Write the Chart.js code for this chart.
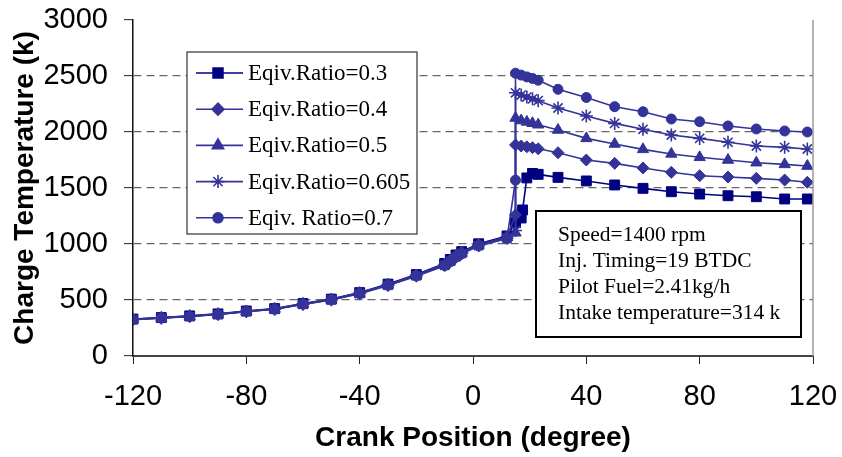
<!DOCTYPE html>
<html>
<head>
<meta charset="utf-8">
<title>Charge Temperature vs Crank Position</title>
<script src="https://cdn.jsdelivr.net/npm/chart.js@4.4.0/dist/chart.umd.min.js"></script>
<style>
  html, body { margin: 0; padding: 0; background: #fff; }
  #chart { display: block; }
</style>
</head>
<body>
<canvas id="chart" width="842" height="457"></canvas>
<script>
// crank angles (degree) - equivalence ratios 0.4 .. 0.7 share the same grid
const crankJump = [-120, -110, -100, -90, -80, -70, -60, -50, -40, -30, -20, -10, -8, -6, -4, 2, 12, 15, 15, 17, 19, 21, 23, 30, 40, 50, 60, 70, 80, 90, 100, 110, 118];
// ratio 0.3 has no sudden jump, ignition comes a bit later
const crankLean = [-120, -110, -100, -90, -80, -70, -60, -50, -40, -30, -20, -10, -8, -6, -4, 2, 12, 15, 17, 17.5, 19, 21, 23, 30, 40, 50, 60, 70, 80, 90, 100, 110, 118];

const temp03  = [330, 343, 358, 376, 402, 423, 468, 508, 566, 642, 727, 826, 862, 902, 932, 1002, 1072, 1190, 1232, 1304, 1590, 1630, 1622, 1595, 1563, 1527, 1497, 1467, 1446, 1431, 1422, 1402, 1402];
const temp04  = [328, 341, 356, 374, 400, 421, 466, 506, 564, 638, 723, 820, 856, 896, 926, 995, 1065, 1260, 1885, 1875, 1868, 1860, 1850, 1815, 1750, 1720, 1679, 1640, 1610, 1598, 1586, 1571, 1551];
const temp05  = [327, 340, 355, 373, 398, 420, 464, 504, 561, 635, 719, 815, 850, 890, 920, 990, 1058, 1100, 2125, 2102, 2090, 2078, 2065, 2018, 1943, 1893, 1845, 1804, 1774, 1750, 1726, 1711, 1696];
const temp0605 = [326, 339, 354, 372, 397, 418, 462, 502, 558, 632, 716, 810, 846, 886, 916, 986, 1052, 1120, 2350, 2330, 2312, 2296, 2280, 2214, 2143, 2077, 2024, 1973, 1943, 1908, 1875, 1863, 1848];
const temp07  = [325, 338, 353, 371, 396, 417, 461, 500, 556, 630, 713, 806, 842, 882, 912, 982, 1048, 1570, 2525, 2508, 2492, 2478, 2462, 2381, 2308, 2226, 2181, 2116, 2092, 2054, 2027, 2009, 2000];

const seriesLabels = ['Eqiv.Ratio=0.3', 'Eqiv.Ratio=0.4', 'Eqiv.Ratio=0.5', 'Eqiv.Ratio=0.605', 'Eqiv. Ratio=0.7'];
const xTicks = [-120, -80, -40, 0, 40, 80, 120];
const yTicks = [0, 500, 1000, 1500, 2000, 2500, 3000];
const noteLines = ['Speed=1400 rpm', 'Inj. Timing=19 BTDC', 'Pilot Fuel=2.41kg/h', 'Intake temperature=314 k'];

const NAVY = '#000080';
const BLUE = '#333399';
const SANS = '"Liberation Sans", Arial, sans-serif';
const SERIF = '"Liberation Serif", "Times New Roman", serif';

function toPoints(xs, ys) {
    return xs.map((x, i) => ({ x: x, y: ys[i] }));
}

// later series drawn on top, like the spreadsheet did
function makeSet(label, xs, ys, color, style, radius, order) {
    return {
        label: label,
        data: toPoints(xs, ys),
        borderColor: color,
        backgroundColor: color,
        borderWidth: 1.6,
        pointStyle: style,
        pointRadius: radius,
        pointBorderWidth: style === 'star' ? 1.6 : 1,
        pointBorderColor: color,
        pointBackgroundColor: color,
        tension: 0,
        fill: false,
        order: order
    };
}

const datasets = [
    makeSet(seriesLabels[0], crankLean, temp03, NAVY, 'rect', 7, 5),
    makeSet(seriesLabels[1], crankJump, temp04, BLUE, 'rectRot', 6, 4),
    makeSet(seriesLabels[2], crankJump, temp05, BLUE, 'triangle', 6.5, 3),
    makeSet(seriesLabels[3], crankJump, temp0605, BLUE, 'star', 6.5, 2),
    makeSet(seriesLabels[4], crankJump, temp07, BLUE, 'circle', 5, 1)
];

// legend box and the test condition box, plus the grey right frame line
const boxesPlugin = {
    id: 'boxes',
    afterDatasetsDraw(chart) {
        const ctx = chart.ctx;
        const area = chart.chartArea;
        ctx.save();

        // right frame line
        ctx.strokeStyle = '#9a9a9a';
        ctx.lineWidth = 1.5;
        ctx.beginPath();
        ctx.moveTo(area.right, area.top);
        ctx.lineTo(area.right, area.bottom);
        ctx.stroke();

        // legend
        const lx = 187, ly = 52, lw = 230, lh = 182;
        ctx.fillStyle = '#fff';
        ctx.fillRect(lx, ly, lw, lh);
        ctx.strokeStyle = '#333';
        ctx.lineWidth = 1.2;
        ctx.strokeRect(lx, ly, lw, lh);
        ctx.font = '23px ' + SERIF;
        ctx.textBaseline = 'middle';
        ctx.textAlign = 'left';
        seriesLabels.forEach((label, i) => {
            const ds = chart.data.datasets[i];
            const y = ly + 21 + i * 36.2;
            ctx.strokeStyle = ds.borderColor;
            ctx.lineWidth = 1.6;
            ctx.beginPath();
            ctx.moveTo(lx + 9, y);
            ctx.lineTo(lx + 56, y);
            ctx.stroke();
            ctx.fillStyle = ds.borderColor;
            Chart.helpers.drawPoint(ctx, {
                pointStyle: ds.pointStyle,
                radius: ds.pointRadius,
                borderWidth: ds.pointBorderWidth,
                rotation: 0
            }, lx + 31, y);
            ctx.fillStyle = '#000';
            ctx.fillText(label, lx + 61, y + 1);
        });

        // test conditions
        const bx = 536, by = 211, bw = 265, bh = 126;
        ctx.fillStyle = '#fff';
        ctx.fillRect(bx, by, bw, bh);
        ctx.strokeStyle = '#000';
        ctx.lineWidth = 2;
        ctx.strokeRect(bx, by, bw, bh);
        ctx.fillStyle = '#000';
        ctx.font = '21.5px ' + SERIF;
        noteLines.forEach((t, i) => {
            ctx.fillText(t, bx + 22, by + 24 + i * 26.2);
        });

        ctx.restore();
    }
};

const ctx = document.getElementById('chart').getContext('2d');
new Chart(ctx, {
    type: 'line',
    data: { datasets: datasets },
    options: {
        responsive: false,
        animation: false,
        devicePixelRatio: 1,
        layout: { padding: { top: 20, right: 29, left: 0, bottom: 0 } },
        plugins: {
            legend: { display: false },
            tooltip: { enabled: false }
        },
        scales: {
            x: {
                type: 'linear',
                min: -120,
                max: 120,
                afterBuildTicks: (scale) => { scale.ticks = xTicks.map(v => ({ value: v })); },
                afterFit: (scale) => {
                    scale.height = 101;
                    scale.paddingLeft = 0;
                    scale.paddingRight = 0;
                },
                grid: {
                    drawOnChartArea: false,
                    drawTicks: true,
                    tickLength: 8,
                    tickColor: '#222',
                    tickWidth: 1
                },
                border: { display: true, color: '#444', width: 2 },
                ticks: {
                    padding: 16,
                    color: '#000',
                    font: { family: SANS, size: 29 },
                    callback: (v) => String(v)
                },
                title: {
                    display: true,
                    text: 'Crank Position (degree)',
                    color: '#000',
                    font: { family: SANS, size: 28, weight: 'bold' },
                    padding: { top: 0, bottom: 2 }
                }
            },
            y: {
                type: 'linear',
                min: 0,
                max: 3000,
                afterBuildTicks: (scale) => { scale.ticks = yTicks.map(v => ({ value: v })); },
                afterFit: (scale) => {
                    scale.width = 133;
                    scale.paddingTop = 0;
                    scale.paddingBottom = 0;
                },
                grid: {
                    drawOnChartArea: true,
                    color: (c) => (c.tick && c.tick.value > 0 && c.tick.value < 3000) ? '#666' : 'rgba(0,0,0,0)',
                    lineWidth: 1.3,
                    drawTicks: true,
                    tickLength: 9,
                    tickColor: '#222',
                    tickWidth: 1
                },
                border: { display: true, color: '#111', width: 1.5, dash: [8, 5] },
                ticks: {
                    padding: 16,
                    color: '#000',
                    font: { family: SANS, size: 29 },
                    callback: (v) => String(v)
                },
                title: {
                    display: true,
                    text: 'Charge Temperature (k)',
                    color: '#000',
                    font: { family: SANS, size: 28, weight: 'bold' },
                    padding: { top: 8, bottom: 0 }
                }
            }
        }
    },
    plugins: [boxesPlugin]
});
</script>
</body>
</html>
